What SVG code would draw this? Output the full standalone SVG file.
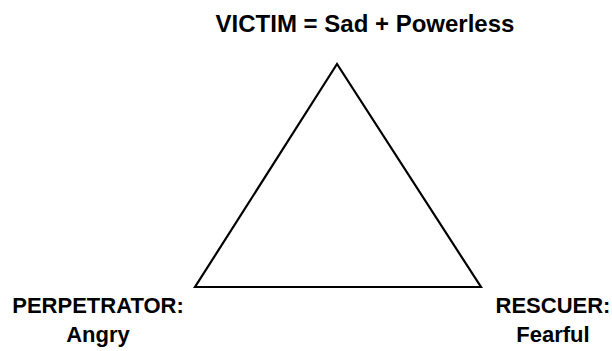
<svg xmlns="http://www.w3.org/2000/svg" width="612" height="351" viewBox="0 0 612 351">
<style>
.t{font-family:"Comic Sans MS","Liberation Sans","DejaVu Sans",sans-serif;font-weight:bold;fill:#000;text-anchor:middle}
.edge{stroke:#000;stroke-width:2.2;fill:none;stroke-linejoin:miter}
</style>
<rect width="612" height="351" fill="#fff"/>
<g id="connectors">
<path class="edge" d="M337,64 L195,287 L481,287 Z"/>
</g>
<g id="victim"><text class="t" x="365" y="32" font-size="24">VICTIM = Sad + Powerless</text></g>
<g id="perpetrator"><text class="t" x="98" y="313" font-size="22">PERPETRATOR:</text><text class="t" x="98" y="342" font-size="22">Angry</text></g>
<g id="rescuer"><text class="t" x="553" y="313" font-size="22">RESCUER:</text><text class="t" x="553" y="342" font-size="22">Fearful</text></g>
</svg>
